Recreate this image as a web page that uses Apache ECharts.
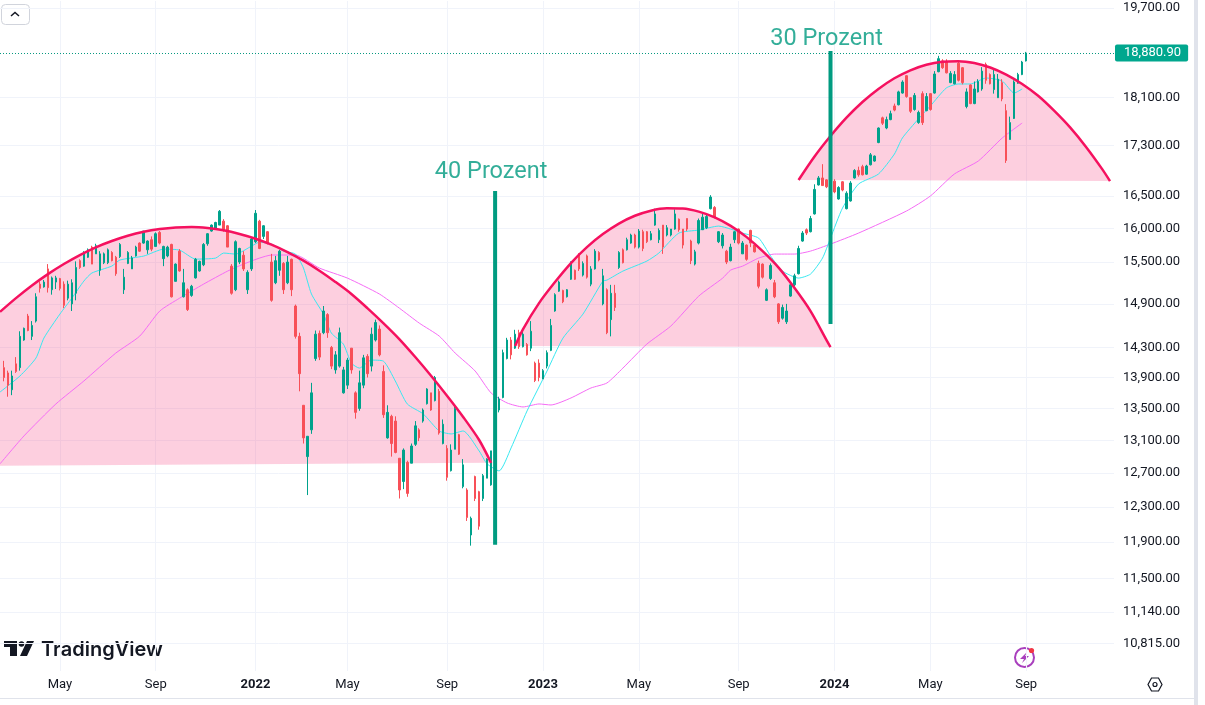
<!DOCTYPE html>
<html><head><meta charset="utf-8">
<script src="https://cdn.jsdelivr.net/npm/echarts@6/dist/echarts.min.js"></script>
<style>html,body{margin:0;padding:0;background:#fff}#c{width:1205px;height:705px}</style>
</head><body><div id="c"></div>
<script>
// Candles are [open, close, low, high]
const candles2021=[[14030,13900,13850,14120],[13960,13800,13650,13990],[13740,13920,13670,13990],[14080,13980,13960,14170],[14030,14450,13990,14520],[14400,14560,14390,14570],[14730,14530,14520,14760],[14450,14600,14400,14660],[14660,15000,14640,15050],[15180,15120,15060,15220],[15140,15210,15130,15240],[15400,15130,15060,15470],[15100,15270,15030,15290],[15210,15270,15110,15300],[15260,15120,15090,15270],[15180,14880,14840,15220],[14980,15180,14950,15230],[14900,15200,14800,15250],[15050,15420,14950,15510],[15520,15420,15400,15540],[15440,15620,15430,15660],[15570,15680,15560,15700],[15720,15470,15470,15740],[15620,15740,15620,15770],[15380,15620,15300,15660],[15490,15620,15470,15640],[15490,15680,15470,15700],[15640,15520,15510,15660],[15570,15330,15300,15590],[15580,15760,15560,15780],[15100,15280,15040,15400],[15480,15640,15470,15660],[15400,15560,15400,15590],[15590,15720,15580,15740],[15780,15660,15650,15790],[15780,15960,15770,15960],[15680,15810,15620,15820],[15830,15690,15660,15880],[15730,15920,15730,15940],[15940,15780,15760,15960],[15550,15730,15440,15740],[15590,15720,15570,15740],[15760,15000,14990,15770],[15220,15470,15220,15480],[15660,15370,15360,15690],[15000,15200,14990,15400],[15100,14820,14800,15120],[15020,15150,15000,15170],[15270,15540,15260,15560],[15370,15510,15360,15520],[15460,15760,15440,15780],[15770,15920,15740,15930],[15960,16050,15950,16060],[16000,16090,15980,16100],[16050,16260,16050,16280],[16110,15980,15950,16140],[16040,15720,15720,16050],[15440,15050,15030,15470],[15100,15800,15080,15820],[15500,15700,15470,15710],[15600,15400,15370,15660],[15100,15350,15040,15380],[15400,15840,15370,15860]];
const candles2022=[[15800,16230,15780,16280],[16110,15700,15690,16130],[15880,16040,15840,16050],[15950,15780,15760,15960],[15500,14950,14930,15620],[15200,15520,15180,15590],[15380,15660,15300,15680],[15480,15100,15040,15500],[15200,15500,15180,15590],[15540,15100,15010,15550],[14870,14450,14420,14890],[14450,13950,13720,14500],[13540,13130,13060,13540],[12900,13150,12440,13150],[13230,13700,13180,13830],[14150,14480,14120,14530],[14490,14170,14130,14530],[14500,14800,14480,14870],[14750,14500,14430,14770],[14300,14050,14010,14320],[14000,14200,13950,14250],[14050,14500,14030,14570],[13700,14000,13690,14040],[13800,14130,13750,14160],[14290,14000,13950,14290],[13700,13450,13370,13720],[13500,13830,13470,13990],[13800,14160,13760,14200],[14180,13950,13900,14210],[14050,14480,13980,14570],[14400,14640,14380,14680],[14550,14200,14180,14600],[13980,13420,13380,14060],[13130,13450,13120,13540],[13400,13060,12900,13420],[13340,12950,12940,13400],[12880,12500,12400,12880],[12600,12980,12510,13000],[12830,12460,12420,12850],[12820,13030,12820,13060],[13050,13280,13030,13340],[13230,13130,13090,13250],[13340,13480,13320,13500],[13560,13750,13550,13760],[13700,13480,13470,13700],[13600,13900,13590,13920],[13720,13190,13170,13750],[13060,13300,13050,13360],[13000,12650,12610,13040],[12730,12980,12720,13050],[12990,13500,12990,13540],[13170,12930,12920,13180],[12540,12800,12520,12870],[12500,12180,12140,12520],[11980,12170,11860,12190],[12660,12400,12370,12670],[12480,12080,12040,12490],[12400,12670,12370,12690],[12640,12870,12640,12880],[12560,12970,12550,12970],[12880,13370,12880,13370],[13480,13620,13450,13650],[13640,14230,13630,14270],[14150,14400,14140,14430],[14400,14200,14140,14440],[14290,14480,14280,14540],[14500,14310,14280,14540],[14310,14480,14300,14540],[14340,14200,14190,14360],[14290,14520,14250,14660],[14090,13860,13840,14110],[14090,13900,13850,14140]];
const candles2023=[[13880,13990,13880,14010],[14050,14230,14020,14260],[14260,14600,14250,14690],[14800,15030,14790,15050],[15080,15210,15070,15230],[15090,14930,14910,15100],[15000,15100,14990,15110],[15250,15470,15240,15510],[15380,15250,15240,15390],[15610,15400,15370,15630],[15310,15480,15290,15510],[15590,15280,15260,15610],[15180,15400,15150,15440],[15400,15660,15390,15690],[15640,15530,15510,15660],[14900,15300,14880,15400],[15100,14500,14480,15120],[14680,15050,14450,15170],[15050,14850,14800,15170],[15420,15640,15400,15660],[15680,15490,15480,15700],[15680,15830,15670,15860],[15780,15900,15770,15920],[15900,15720,15700,15920],[15720,15960,15700,15990],[15950,15700,15660,15980],[15950,15800,15780,15960],[15830,15920,15820,15960],[16050,16220,16040,16300],[15830,15970,15780,16000],[16050,15720,15620,16050],[15900,16010,15880,16050],[15900,15990,15880,15990],[15990,16220,15980,16290],[16140,15980,15950,16150],[15990,15750,15700,15990],[16150,15990,15960,16150],[15810,15520,15470,15830],[15470,15650,15450,15680],[15780,16120,15760,16150],[15980,16170,15980,16220],[16010,16180,15990,16220],[16300,16480,16290,16510],[16320,16170,16150,16340],[15800,15950,15780,15960],[15740,15900,15700,15930],[15660,15500,15470,15680],[15520,15720,15510,15770],[15830,15950,15780,15960],[15990,15780,15760,16000],[15620,15780,15620,15810],[15750,15540,15520,15760],[15970,15780,15720,15980],[15750,15650,15640,15770],[15480,15150,15120,15520],[15470,15280,15260,15480],[14950,15100,14940,15120],[15260,15450,15240,15480],[15200,15000,14980,15240],[14900,14650,14620,14910],[14700,14850,14680,14890],[14650,14800,14620,14900],[15010,15170,15000,15190],[15170,15300,15150,15330],[15330,15700,15320,15740],[15810,15930,15800,15960],[15980,15930,15900,16000],[15950,16150,15940,16190],[16220,16600,16210,16680],[16670,16780,16660,16810],[16780,16660,16660,17000],[16750,16640,16620,16760],[16600,16850,16570,16970]];
const candles2024=[[16730,16560,16540,16760],[16450,16630,16440,16650],[16720,16590,16570,16730],[16300,16540,16290,16570],[16420,16700,16410,16730],[16780,16900,16770,16920],[16900,16830,16800,16960],[16960,16830,16820,16990],[16840,16970,16830,16990],[16990,17150,16980,17180],[17050,17130,17040,17140],[17350,17590,17340,17600],[17760,17670,17640,17780],[17590,17730,17570,17780],[17730,17830,17720,17880],[17960,17890,17870,18000],[17980,18200,17970,18220],[18180,18370,18170,18400],[18480,18120,18100,18490],[18100,17870,17840,18110],[17900,18140,17880,18180],[17680,17850,17660,17880],[18170,17680,17640,18210],[17880,18120,17870,18180],[18170,17900,17880,18180],[18180,18510,18170,18560],[18550,18780,18540,18830],[18740,18620,18600,18770],[18730,18530,18520,18770],[18360,18520,18350,18560],[18340,18500,18330,18560],[18700,18400,18380,18740],[18620,18360,18330,18630],[17950,18200,17920,18260],[18320,18000,17990,18330],[18000,18250,17990,18380],[18200,18380,18190,18420],[18250,18560,18220,18630],[18680,18400,18340,18710],[18500,18340,18330,18520],[18240,18500,18170,18600],[18100,18420,18100,18510],[18360,18080,18040,18420],[17880,17060,17020,17990],[17400,17680,17400,17780],[17750,18370,17740,18400],[18350,18500,18340,18530],[18500,18720,18490,18740],[18740,18880.9,18730,18900]];
// Moving averages and drawings as [slot, price]
const fastAverage=[[0,13710],[5,13920],[9,14157],[11,14427],[15,14757],[18,14981],[21,15224],[23,15340],[28,15441],[30,15529],[36,15588],[41,15690],[45,15675],[49,15543],[54,15558],[56,15632],[59,15617],[63,15735],[65,15794],[68,15765],[71,15661],[74,15617],[76,15412],[78,15040],[81,14757],[83,14495],[86,14345],[88,14090],[90,14024],[93,14130],[96,14117],[99,13854],[102,13557],[106,13430],[110,13216],[113,13179],[116,13216],[120,12969],[122,12812],[125,12727],[128,13006],[132,13468],[137,13985],[141,14427],[146,14757],[151,15224],[152,15238],[156,15368],[162,15514],[165,15632],[170,15929],[175,15975],[180,16035],[183,15990],[186,15929],[190,15854],[193,15588],[196,15368],[200,15267],[203,15325],[206,15558],[208,15854],[211,16310],[215,16683],[220,16842],[224,17163],[226,17425],[230,17740],[233,17959],[237,18267],[240,18336],[243,18336],[247,18440],[251,18388],[254,18180],[256,18250]];
const slowAverage=[[0,12812],[6,13154],[14,13557],[21,13854],[29,14224],[35,14454],[40,14799],[45,14981],[51,15181],[57,15368],[61,15470],[65,15558],[68,15603],[74,15603],[80,15412],[87,15267],[95,15040],[100,14841],[105,14632],[110,14454],[114,14224],[119,13985],[123,13698],[127,13570],[131,13519],[135,13557],[138,13544],[143,13634],[148,13763],[152,13828],[156,14024],[162,14345],[168,14591],[175,15010],[181,15267],[183,15383],[186,15441],[190,15558],[194,15617],[199,15617],[203,15661],[208,15765],[215,15929],[227,16264],[233,16496],[239,16842],[245,17050],[251,17425],[256,17673]];
const arcOne=[[0,14788],[4,14981],[8,15161],[12,15324],[16,15471],[20,15602],[24,15717],[28,15811],[32,15890],[36,15950],[40,15990],[44,16014],[48,16020],[52,16005],[56,15971],[60,15916],[64,15845],[68,15756],[72,15646],[76,15520],[80,15374],[84,15212],[88,15040],[92,14841],[96,14632],[100,14413],[104,14171],[108,13920],[112,13660],[116,13392],[120,13104],[123,12824]];
const arcOneBase=[[0,12790]];
const arcTwo=[[129,14318],[131,14550],[135,14911],[139,15210],[143,15485],[147,15720],[151,15914],[155,16073],[159,16192],[163,16270],[167,16307],[171,16303],[175,16255],[179,16167],[183,16038],[187,15869],[191,15661],[195,15419],[199,15124],[203,14799],[207,14400],[208,14305]];
const arcThree=[[200,16747],[204,17123],[208,17457],[212,17762],[216,18027],[220,18250],[224,18435],[228,18575],[232,18673],[236,18726],[240,18736],[244,18703],[248,18624],[252,18500],[256,18337],[260,18133],[264,17880],[268,17600],[272,17279],[276,16925],[278,16731]];
const barForty=[[124,16574],[124,11869]];
const barThirty=[[208,18916],[208,14619]];
const annotations=[{name:'40 Prozent',value:[123,16874]},{name:'30 Prozent',value:[207,19134]}];
const lastPrice=18880.9;
const priceTicks=[19700,18100,17300,16500,16000,15500,14900,14300,13900,13500,13100,12700,12300,11900,11500,11140,10815];
const timeSlots=[15,39,64,87,112,136,160,185,209,233,257];
const timeNames=['May','Sep','2022','May','Sep','2023','May','Sep','2024','May','Sep'];

const slots=Array.from({length:280},(_,i)=>String(i));
const candles=[['-','-','-','-']].concat(candles2021,candles2022,candles2023,candles2024);
const fmt=v=>Number(v).toLocaleString('en-US',{minimumFractionDigits:2,maximumFractionDigits:2});
const INK='#131722',GREEN='#009a80',FONT='Roboto';

function fillSeries(points){
  return {type:'custom',xAxisIndex:0,yAxisIndex:0,silent:true,z:1,clip:true,data:points,
    renderItem:(p,api)=>p.dataIndex!==0?null:{type:'polygon',
      shape:{points:points.map(d=>api.coord(d))},
      style:{fill:'rgba(247,63,127,0.25)'}}};
}
function lineSeries(data,color,width,z,smooth){
  return {type:'line',data,symbol:'none',smooth:smooth||false,z,silent:true,lineStyle:{color,width},itemStyle:{color}};
}
const chart=echarts.init(document.getElementById('c'),null,{renderer:'canvas'});
chart.setOption({
  animation:false,backgroundColor:'#fff',
  grid:{left:-2,top:1,width:1116,height:670,containLabel:false},
  xAxis:{type:'category',data:slots,boundaryGap:false,
    axisLine:{show:false},axisTick:{show:false},
    splitLine:{show:true,interval:i=>timeSlots.includes(i),lineStyle:{color:'#f0f3fa',width:1}},
    axisLabel:{interval:i=>timeSlots.includes(i),margin:7,fontFamily:FONT,fontSize:13,color:INK,hideOverlap:false,
      formatter:(v)=>{const n=timeNames[timeSlots.indexOf(+v)]||'';return /^\d/.test(n)?'{y|'+n+'}':n;},
      rich:{y:{fontFamily:FONT,fontSize:13,fontWeight:700,color:INK}}}},
  yAxis:{type:'log',position:'right',min:10537,max:19830,
    axisLine:{show:false},
    axisTick:{show:false,customValues:priceTicks},
    splitLine:{show:true,lineStyle:{color:'#f0f3fa',width:1}},
    axisLabel:{customValues:priceTicks,margin:9,fontFamily:FONT,fontSize:13,color:INK,align:'left',hideOverlap:false,formatter:v=>fmt(v)}},
  graphic:[
    {type:'rect',shape:{x:0,y:698,width:1194,height:1},style:{fill:'#e0e3eb'}},
    {type:'rect',shape:{x:1194,y:0,width:4,height:705},style:{fill:'#e0e3eb'}},
    {type:'rect',shape:{x:1.5,y:4.5,width:28,height:20,r:4},style:{fill:'#fff',stroke:'#d1d4dc',lineWidth:1}},
    {type:'polyline',shape:{points:[[11,16],[15,12.5],[19,16]]},style:{fill:'none',stroke:INK,lineWidth:1.5}},
    {type:'polygon',shape:{points:[[4,641],[17,641],[17,656],[10,656],[10,647],[4,647]]},style:{fill:INK}},
    {type:'circle',shape:{cx:21.5,cy:644,r:2.8},style:{fill:INK}},
    {type:'polygon',shape:{points:[[27,641],[34,641],[27,656],[20,656]]},style:{fill:INK}},
    {type:'text',x:41,y:640,style:{text:'TradingView',fontFamily:'Inter',fontSize:20,fontWeight:600,fill:INK}},
    {type:'circle',shape:{cx:1024.5,cy:657.5,r:9.5},style:{fill:'none',stroke:'#a93fbd',lineWidth:2}},
    {type:'polygon',shape:{points:[[1027,652],[1020,659],[1024,659],[1022,663],[1029,656],[1025,656]]},style:{fill:'#a93fbd'}},
    {type:'circle',shape:{cx:1031.5,cy:650.5,r:2.6},style:{fill:'#f23645'}},
    {type:'polygon',shape:{points:[[1151.5,678],[1158.5,678],[1162,684.5],[1158.5,691],[1151.5,691],[1148,684.5]]},style:{fill:'none',stroke:INK,lineWidth:1.2}},
    {type:'circle',shape:{cx:1155,cy:684.5,r:2},style:{fill:'none',stroke:INK,lineWidth:1.2}}
  ],
  series:[
    fillSeries(arcOne.concat(arcOneBase)),fillSeries(arcTwo),fillSeries(arcThree),
    lineSeries(slowAverage,'#f56cf5',1,3,0.2),
    lineSeries(fastAverage,'#38e8f0',1,3,0.2),
    {type:'candlestick',data:candles,z:4,large:false,progressive:0,barWidth:2,silent:true,
      itemStyle:{color:'#00a28c',color0:'#f85058',borderColor:'#00a28c',borderColor0:'#f85058',borderWidth:1},
      markLine:{silent:true,symbol:'none',animation:false,precision:2,
        lineStyle:{type:[1,2],color:'#089981',width:1},
        label:{show:true,position:'end',distance:1,formatter:()=>fmt(lastPrice),fontFamily:FONT,fontSize:13,color:'#fff',backgroundColor:'#00a78e',padding:[2,7,2,9],borderRadius:2,lineHeight:13},
        data:[{yAxis:lastPrice}]}},
    lineSeries(arcOne,'#f5115f',2.5,5,0.3),lineSeries(arcTwo,'#f5115f',2.5,5,0.3),lineSeries(arcThree,'#f5115f',2.5,5,0.3),
    lineSeries(barForty,'#009b80',4,6),lineSeries(barThirty,'#009b80',4,6),
    {type:'scatter',data:annotations,symbolSize:0,z:7,silent:true,
      label:{show:true,position:'inside',formatter:p=>p.name,fontFamily:FONT,fontSize:23.5,color:GREEN}}
  ]
});
</script></body></html>
